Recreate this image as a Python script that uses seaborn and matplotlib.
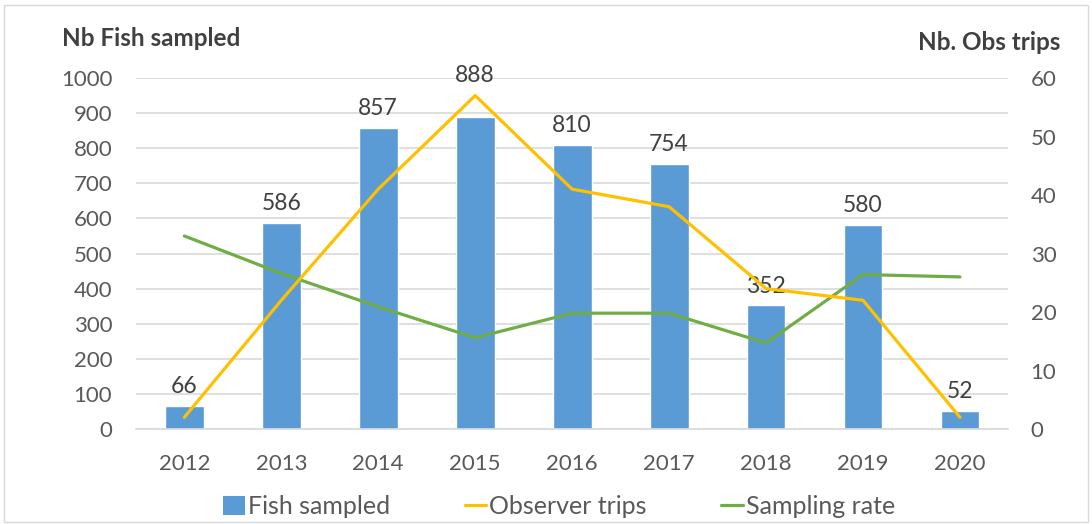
import numpy as np
import pandas as pd
import matplotlib
matplotlib.use("Agg")
import matplotlib.pyplot as plt
import seaborn as sns
from matplotlib.patches import Patch, Rectangle
from matplotlib.lines import Line2D

sns.set_theme(style="white")
plt.rcParams['font.family'] = ['Lato', 'DejaVu Sans']

# values
years = ["2012", "2013", "2014", "2015", "2016", "2017", "2018", "2019", "2020"]
fish_sampled = [66, 586, 857, 888, 810, 754, 352, 580, 52]
observer_trips = [2, 22, 41, 57, 41, 38, 24, 22, 2]
sampling_rate = [33, 26.6, 20.9, 15.6, 19.8, 19.8, 14.7, 26.4, 26]

COLORS = {
    'bar': '#5B9BD5',
    'trips': '#FFC000',
    'rate': '#70AD47',
    'text': '#595959',
    'label': '#404040',
    'grid': '#D9D9D9',
}

df = pd.DataFrame({'year': years, 'fish': fish_sampled,
                   'trips': observer_trips, 'rate': sampling_rate})
df['pos'] = np.arange(len(df))

fig = plt.figure(figsize=(10.92, 5.24), dpi=100)
ax = fig.add_axes([0.1244, 0.1813, 0.7991, 0.6698])

sns.barplot(data=df, x='year', y='fish', ax=ax, color=COLORS['bar'],
            width=0.4, saturation=1, zorder=2)
ax.set_ylim(0, 1000)
ax.set_yticks(np.arange(0, 1001, 100))
ax.set_xlim(-0.5, len(years) - 0.5)
ax.yaxis.grid(True, color=COLORS['grid'], linewidth=1.2, zorder=0)
ax.set_axisbelow(True)
ax.set_xlabel("")
ax.set_ylabel("")
for s in ['top', 'right', 'left']:
    ax.spines[s].set_visible(False)
ax.spines['bottom'].set_color(COLORS['grid'])
ax.spines['bottom'].set_linewidth(1.2)
ax.tick_params(axis='y', length=0, pad=17, labelsize=16, labelcolor=COLORS['text'])
ax.tick_params(axis='x', length=0, pad=18, labelsize=16, labelcolor=COLORS['text'])

# bar value labels (2015 label lifted above the trips peak, as in the source)
label_lift = {"2015": 30}
for i, row in df.iterrows():
    ax.annotate(f"{row['fish']}", (row['pos'], row['fish']),
                xytext=(0, label_lift.get(row['year'], 14)), textcoords='offset points',
                ha='center', va='center', fontsize=16.5, color=COLORS['label'], zorder=5)

ax2 = ax.twinx()
sns.lineplot(data=df, x='pos', y='trips', ax=ax2, color=COLORS['trips'],
             linewidth=2.3, zorder=4)
sns.lineplot(data=df, x='pos', y='rate', ax=ax2, color=COLORS['rate'],
             linewidth=2.3, zorder=3)
ax2.set_ylim(0, 60)
ax2.set_yticks(np.arange(0, 61, 10))
ax2.set_xlim(-0.5, len(years) - 0.5)
ax2.set_xlabel("")
ax2.set_ylabel("")
for s in ['top', 'right', 'left', 'bottom']:
    ax2.spines[s].set_visible(False)
ax2.tick_params(axis='y', length=0, pad=16, labelsize=16, labelcolor=COLORS['text'])
ax2.grid(False)

fig.text(62 / 1092, 1 - 38 / 524, "Nb Fish sampled", ha='left', va='center',
         fontsize=17.5, fontweight='bold', color=COLORS['label'])
fig.text(1060 / 1092, 1 - 42 / 524, "Nb. Obs trips", ha='right', va='center',
         fontsize=17.5, fontweight='bold', color=COLORS['label'])

handles = [Patch(facecolor=COLORS['bar'], edgecolor='none'),
           Line2D([], [], color=COLORS['trips'], linewidth=2.3),
           Line2D([], [], color=COLORS['rate'], linewidth=2.3)]
fig.legend(handles, ["Fish sampled", "Observer trips", "Sampling rate"],
           loc='center', bbox_to_anchor=(0.512, 1 - 507 / 524), ncol=3, frameon=False,
           fontsize=18, labelcolor=COLORS['text'], handlelength=0.85, handleheight=0.8,
           handletextpad=0.12, columnspacing=3.0)

fig.patches.append(Rectangle((0.004, 0.004), 0.992, 0.986, transform=fig.transFigure,
                             fill=False, edgecolor=COLORS['grid'], linewidth=1))

plt.savefig("out.png", dpi=100)
plt.close()
